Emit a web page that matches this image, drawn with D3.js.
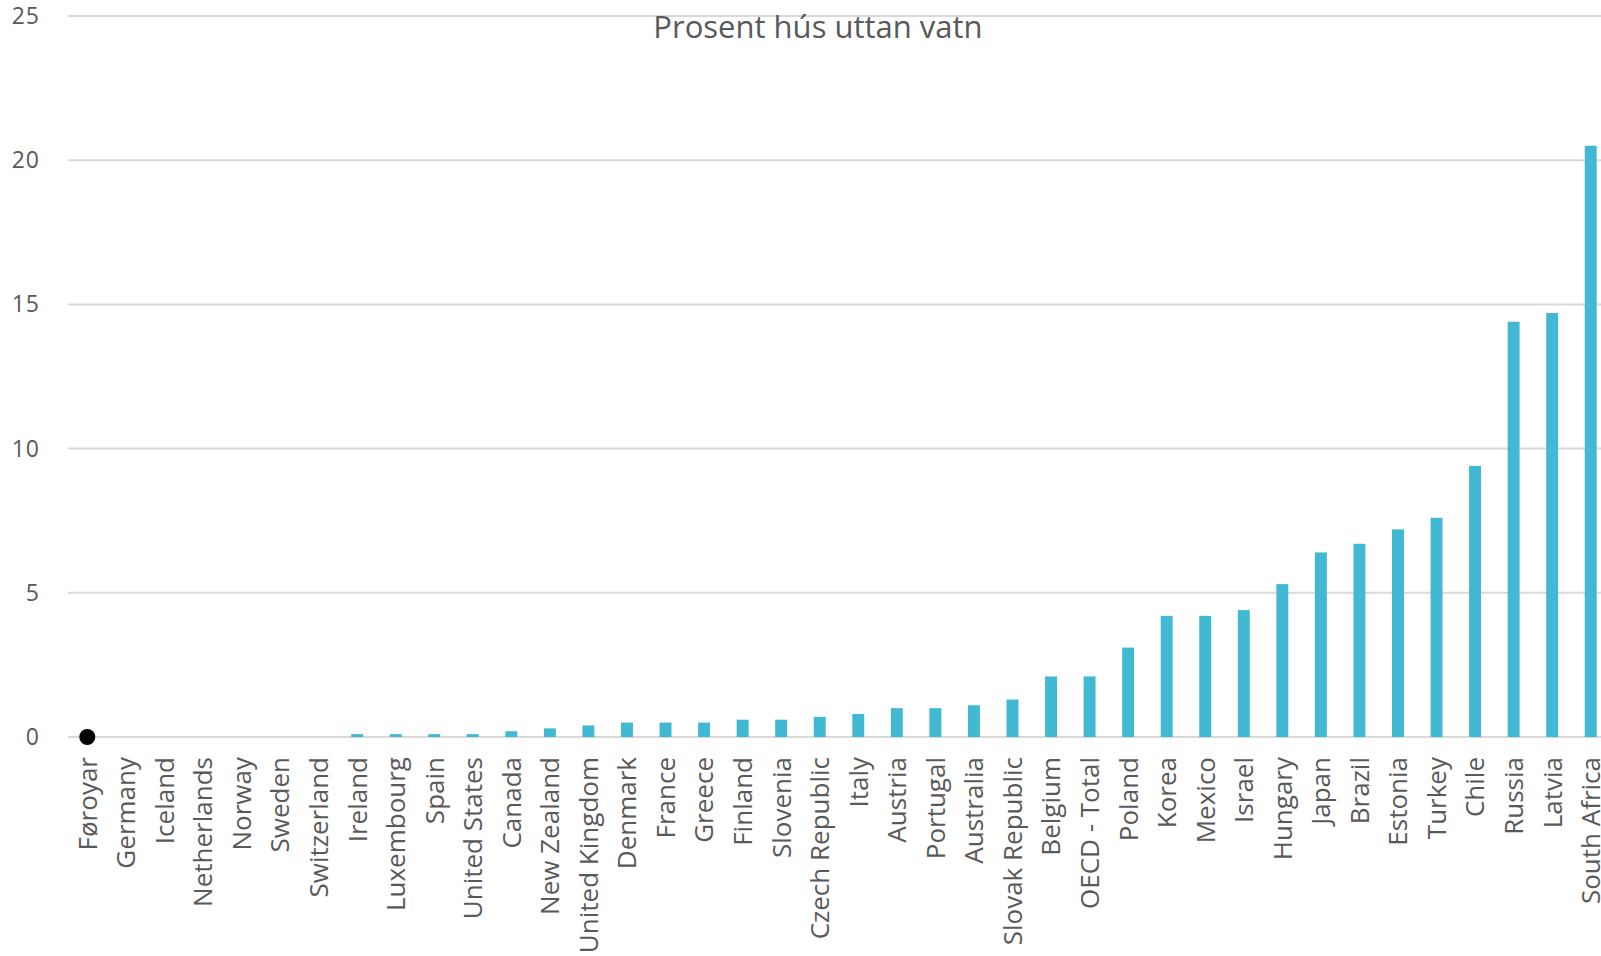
<!doctype html>
<html>
<head>
<meta charset="utf-8">
<style>
    body { margin: 0; background: #fff; }
    text { font-family: "Open Sans", sans-serif; fill: #595959; }
    .bar { fill: #41b9d3; }
    .grid line { stroke: #d9d9d9; stroke-width: 2; }
</style>
<script src="https://d3js.org/d3.v7.min.js"></script>
</head>
<body>
<svg width="1601" height="956"></svg>
<script>
var countries = ["Føroyar", "Germany", "Iceland", "Netherlands", "Norway", "Sweden", "Switzerland",
    "Ireland", "Luxembourg", "Spain", "United States", "Canada", "New Zealand", "United Kingdom",
    "Denmark", "France", "Greece", "Finland", "Slovenia", "Czech Republic", "Italy", "Austria",
    "Portugal", "Australia", "Slovak Republic", "Belgium", "OECD - Total", "Poland", "Korea",
    "Mexico", "Israel", "Hungary", "Japan", "Brazil", "Estonia", "Turkey", "Chile", "Russia",
    "Latvia", "South Africa"];
var values = [0, 0, 0, 0, 0, 0, 0,
    0.1, 0.1, 0.1, 0.1, 0.2, 0.3, 0.4,
    0.5, 0.5, 0.5, 0.6, 0.6, 0.7, 0.8, 1.0,
    1.0, 1.1, 1.3, 2.1, 2.1, 3.1, 4.2,
    4.2, 4.4, 5.3, 6.4, 6.7, 7.2, 7.6, 9.4, 14.4,
    14.7, 20.5];
var yTicks = [0, 5, 10, 15, 20, 25];
var highlight = "Føroyar";
var title = "Prosent hús uttan vatn";

var data = countries.map(function(c, i) { return { name: c, value: values[i] }; });

var svg = d3.select("svg");

var xScale = d3.scaleBand().domain(countries).range([68, 1610]).paddingInner(0.69).paddingOuter(0.345),
    yScale = d3.scaleLinear().domain([0, 25]).range([737, 16]);

// gridlines
svg.append("g")
    .attr("class", "grid")
    .selectAll("line")
    .data(yTicks)
    .enter().append("line")
    .attr("x1", 68)
    .attr("x2", 1601)
    .attr("y1", function(d) { return yScale(d); })
    .attr("y2", function(d) { return yScale(d); });

// y tick labels
svg.append("g")
    .selectAll("text")
    .data(yTicks)
    .enter().append("text")
    .attr("x", 40)
    .attr("y", function(d) { return yScale(d); })
    .attr("dy", "0.35em")
    .attr("text-anchor", "end")
    .attr("font-size", "23px")
    .attr("letter-spacing", "1px")
    .text(function(d) { return d; });

svg.append("text")
    .attr("x", 818)
    .attr("y", 38)
    .attr("text-anchor", "middle")
    .attr("font-size", "31px")
    .text(title);

svg.selectAll(".bar")
    .data(data.filter(function(d) { return d.name !== highlight; }))
    .enter().append("rect")
    .attr("class", "bar")
    .attr("x", function(d) { return xScale(d.name); })
    .attr("y", function(d) { return yScale(d.value); })
    .attr("width", xScale.bandwidth())
    .attr("height", function(d) { return yScale(0) - yScale(d.value); });

svg.selectAll(".dot")
    .data(data.filter(function(d) { return d.name === highlight; }))
    .enter().append("circle")
    .attr("class", "dot")
    .attr("cx", function(d) { return xScale(d.name) + xScale.bandwidth() / 2; })
    .attr("cy", function(d) { return yScale(d.value); })
    .attr("r", 8)
    .attr("fill", "#000");

// category labels
svg.append("g")
    .selectAll("text")
    .data(countries)
    .enter().append("text")
    .attr("transform", function(d) {
        return "translate(" + (xScale(d) + xScale.bandwidth() / 2) + ",757) rotate(-90)";
    })
    .attr("dy", "0.36em")
    .attr("text-anchor", "end")
    .attr("font-size", "26px")
    .text(function(d) { return d; });
</script>
</body>
</html>
